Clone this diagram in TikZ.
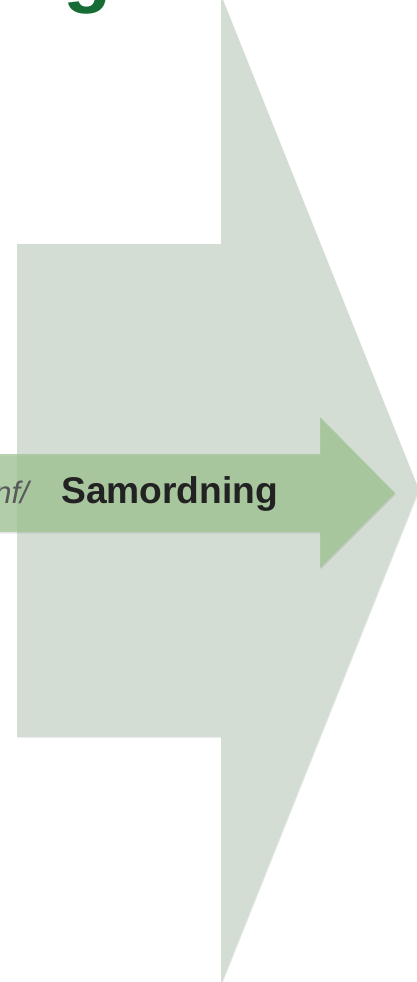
\documentclass[tikz,border=0pt]{standalone}
\usepackage{fontspec}
\setmainfont{Liberation Sans}
\usetikzlibrary{shadows}
\definecolor{panelgrey}{RGB}{212,221,212}
\definecolor{flowgreen}{RGB}{156,196,144}
\definecolor{titlegreen}{RGB}{22,108,52}
\definecolor{labeldark}{RGB}{34,34,34}
\tikzset{
  bigarrow/.style={fill=panelgrey, draw=none,
    drop shadow={opacity=0.12, shadow xshift=0.6pt, shadow yshift=-1.2pt}},
  flowarrow/.style={fill=flowgreen, fill opacity=0.72, draw=none,
    drop shadow={opacity=0.18, shadow xshift=0.8pt, shadow yshift=-1.5pt}},
  steplabel/.style={font=\bfseries\fontsize{37.2}{40}\selectfont, text=labeldark, inner sep=0pt}
}
\begin{document}
\begin{tikzpicture}[x=1pt, y=-1pt]
  \useasboundingbox (0,0) rectangle (417,982);
  % big background arrow
  \coordinate (B1) at (17,244);
  \coordinate (B2) at (221,244);
  \coordinate (B3) at (221,-5);
  \coordinate (Btip) at (419,490);
  \coordinate (B5) at (221,985);
  \coordinate (B6) at (221,737);
  \coordinate (B7) at (17,737);
  \path [bigarrow] (B1) -- (B2) -- (B3) -- (Btip) -- (B5) -- (B6) -- (B7) -- cycle;
  % small green arrow
  \coordinate (F1) at (-6,454);
  \coordinate (F2) at (320,454);
  \coordinate (F3) at (320,417);
  \coordinate (Ftip) at (395,493);
  \coordinate (F5) at (320,568);
  \coordinate (F6) at (320,532);
  \coordinate (F7) at (-6,532);
  \path [flowarrow] (F1) -- (F2) -- (F3) -- (Ftip) -- (F5) -- (F6) -- (F7) -- cycle;
  % texts
  \node [steplabel, anchor=base west] (samordning) at (61,503) {Samordning};
  \node [inner sep=0pt, anchor=base east, text=black!65,
         font=\itshape\fontsize{31}{34}\selectfont] (prev) at (29,503) {nf/};
  \node [inner sep=0pt, anchor=base west, text=titlegreen,
         font=\bfseries\fontsize{79}{84}\selectfont] (title) at (63,-2) {g};
\end{tikzpicture}
\end{document}
